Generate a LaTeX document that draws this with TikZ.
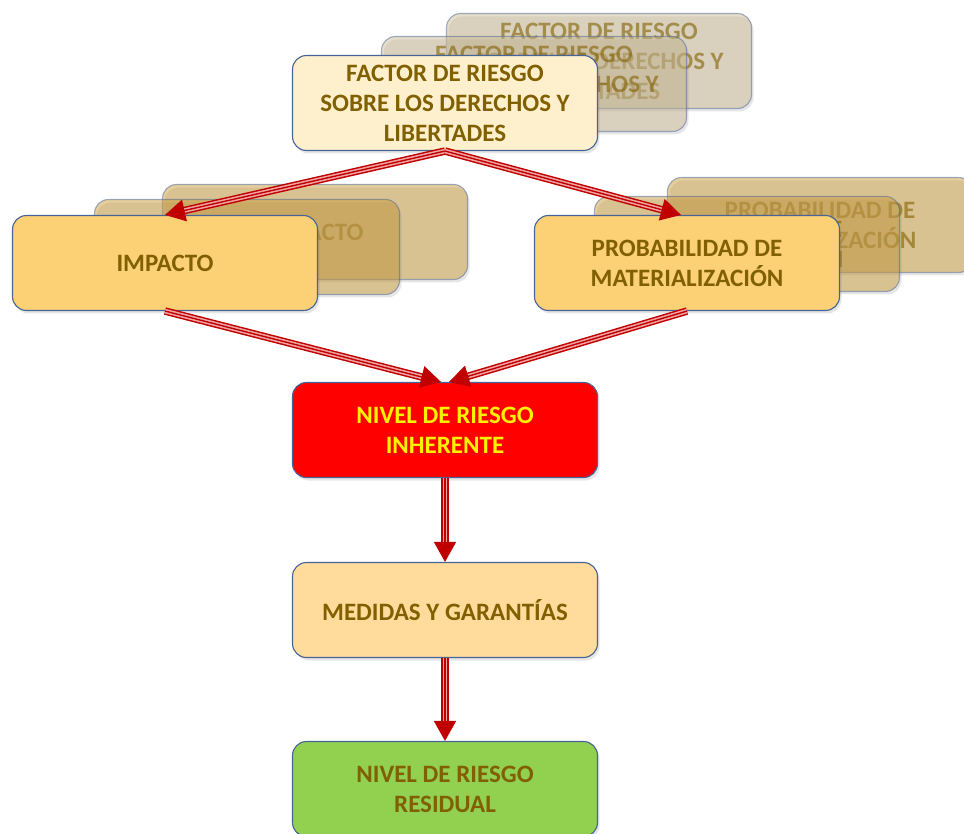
\documentclass[tikz,border=0pt]{standalone}
\usepackage{fontspec}
\setmainfont{Carlito}
\usepackage{xcolor}
\usepackage{tikz}
\usetikzlibrary{arrows.meta, calc, shadows}
\definecolor{riskBrown}{RGB}{128,96,0}
\definecolor{boxBlue}{RGB}{70,100,150}
\definecolor{factorCream}{RGB}{255,240,205}
\definecolor{impactGold}{RGB}{252,208,116}
\definecolor{measureTan}{RGB}{255,220,155}
\definecolor{residualGreen}{RGB}{146,208,80}
\definecolor{ghostCream}{RGB}{205,188,150}
\definecolor{ghostGold}{RGB}{205,158,62}
\definecolor{arrowRed}{RGB}{192,0,0}
\definecolor{stripePink}{RGB}{240,165,165}

\begin{document}
\begin{tikzpicture}[x=1pt, y=-1pt,
  box/.style={draw=boxBlue, line width=1.1pt, rounded corners=14pt,
    minimum width=305pt, minimum height=95pt, align=center, text=riskBrown,
    font=\bfseries\fontsize{25}{30}\selectfont,
    drop shadow={opacity=0.2, shadow xshift=2pt, shadow yshift=-3pt}},
  ghost/.style={box, fill opacity=0.5, draw opacity=0.5, text opacity=0.6},
  flow/.style={draw=arrowRed, line width=1.4pt, line cap=butt,
    -{Triangle[width=22pt, length=20pt]},
    preaction={draw=arrowRed, line width=7.5pt, shorten >=16pt, arrows=-},
    preaction={draw=stripePink, line width=4.5pt, shorten >=16pt, arrows=-}}]

  \useasboundingbox (0,0) rectangle (964,834);

  % ghost copies behind
  \node[ghost, fill=ghostCream] (factorC) at (599,61) {FACTOR DE RIESGO\\SOBRE LOS DERECHOS Y\\LIBERTADES};
  \node[ghost, fill=ghostCream] (factorB) at (534,84) {FACTOR DE RIESGO\\SOBRE LOS DERECHOS Y\\LIBERTADES};
  \node[ghost, fill=ghostGold] (impactC) at (315,232) {IMPACTO};
  \node[ghost, fill=ghostGold] (impactB) at (247,247) {IMPACTO};
  \node[ghost, fill=ghostGold] (probC) at (820,225) {PROBABILIDAD DE\\MATERIALIZACIÓN};
  \node[ghost, fill=ghostGold] (probB) at (747,244) {PROBABILIDAD DE\\MATERIALIZACIÓN};

  \node[box, fill=factorCream] (factor) at (445,103) {FACTOR DE RIESGO\\SOBRE LOS DERECHOS Y\\LIBERTADES};
  \node[box, fill=impactGold] (impact) at (165,263) {IMPACTO};
  \node[box, fill=impactGold] (prob) at (687,263) {PROBABILIDAD DE\\MATERIALIZACIÓN};
  \node[box, fill=red, text=yellow] (inherent) at (445,430) {NIVEL DE RIESGO\\INHERENTE};
  \node[box, fill=measureTan] (measures) at (445,610) {MEDIDAS Y GARANTÍAS};
  \node[box, fill=residualGreen] (residual) at (445,789) {NIVEL DE RIESGO\\RESIDUAL};

  \draw[flow] (factor.south) -- (impact.north);
  \draw[flow] (factor.south) -- ($(prob.north)+(-6,0)$);
  \draw[flow] (impact.south) -- ($(inherent.north)+(-4,0)$);
  \draw[flow] (prob.south) -- ($(inherent.north)+(4,0)$);
  \draw[flow] (inherent.south) -- (measures.north);
  \draw[flow] (measures.south) -- (residual.north);

\end{tikzpicture}
\end{document}
